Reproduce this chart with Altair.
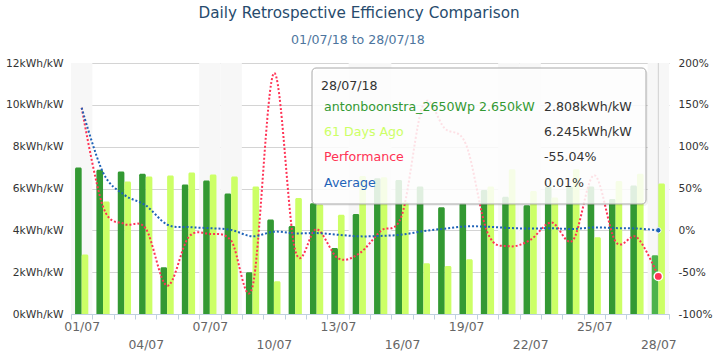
import altair as alt
import pandas as pd

# ---------------- data ----------------
days = list(range(1, 29))
dark = [7.00, 6.90, 6.81, 6.71, 2.24, 6.19, 6.38, 5.76, 2.00, 4.52,
        4.21, 5.30, 3.16, 4.78, 6.49, 6.41, 6.09, 5.10, 5.30, 5.93,
        5.61, 5.20, 6.09, 6.09, 6.09, 5.50, 6.14, 2.808]
light = [2.84, 5.38, 6.33, 6.57, 6.62, 6.76, 6.67, 6.57, 6.10, 1.57,
         5.55, 5.23, 4.74, 6.60, 6.54, 5.35, 2.43, 2.30, 2.62, 6.09,
         6.92, 5.88, 5.57, 6.92, 3.67, 6.36, 6.70, 6.245]
performance = [146.48, 28.25, 7.58, 2.13, -66.16, -8.43, -4.35, -12.33, -67.21, 187.90,
               -24.14, 1.34, -33.33, -27.58, -0.76, 18.88, 150.62, 121.74, 102.29, -2.63,
               -18.93, -11.56, 9.34, -11.99, 65.94, -13.52, -8.36, -55.04]
average = [146.48, 69.10, 42.34, 29.83, 6.92, 3.91, 2.57, 0.52, -7.15, -1.62,
           -3.67, -3.28, -5.29, -7.18, -6.68, -5.10, -0.98, 2.02, 4.73, 4.30,
           2.83, 2.10, 2.43, 1.65, 3.44, 2.66, 2.15, 0.01]
weekend_days = [1, 7, 8, 14, 15, 21, 22, 28]
hover_day = 28
left_ticks = [0, 2, 4, 6, 8, 10, 12]
right_ticks = [-100, -50, 0, 50, 100, 150, 200]

title_text = "Daily Retrospective Efficiency Comparison"
subtitle_text = "01/07/18 to 28/07/18"
tooltip_date = "28/07/18"
tooltip_labels = ["antonboonstra_2650Wp 2.650kW", "61 Days Ago", "Performance", "Average"]
tooltip_values = ["2.808kWh/kW", "6.245kWh/kW", "-55.04%", "0.01%"]

DARK = "#339933"
LIGHT = "#ccff66"
HOVER = "#4cb34c"
RED = "#ff3355"
BLUE = "#1f63b8"
tooltip_colors = [DARK, LIGHT, RED, BLUE]
FONT = "DejaVu Sans"

W, H = 598, 251

bars_df = pd.DataFrame({
    "day": days * 2,
    "series": ["dark"] * len(days) + ["light"] * len(days),
    "value": dark + light,
})
lines_df = pd.DataFrame({"day": days, "performance": performance, "average": average})
weekend_df = pd.DataFrame({"day": weekend_days})
hover_df = lines_df[lines_df["day"] == hover_day]
tip_df = pd.DataFrame({
    "label": tooltip_labels, "value": tooltip_values,
    "color": tooltip_colors, "idx": list(range(len(tooltip_labels))),
})

# ---------------- scales / axes ----------------
x_scale = alt.Scale(domain=[0.5, 28.5], nice=False, zero=False)
label_expr = (
    "(datum.value + 0.5) <= 28 && ((datum.value - 0.5) % 3) == 0 ? "
    "((((datum.value - 0.5) / 3) % 2) == 0 ? "
    "[((datum.value + 0.5) < 10 ? '0' : '') + (datum.value + 0.5) + '/07'] : "
    "['', ((datum.value + 0.5) < 10 ? '0' : '') + (datum.value + 0.5) + '/07']) : ''"
)
x_axis = alt.Axis(
    values=[d - 0.5 for d in days] + [28.5], title=None, grid=False,
    labelExpr=label_expr, labelOffset=W / 28 / 2, tickSize=5,
    tickColor="#C0D0E0", domainColor="#C0D0E0", labelColor="#666666",
    labelFont=FONT, labelFontSize=12.4, labelPadding=1, labelLineHeight=18.3,
    labelOverlap=False, labelBaseline="top", labelAlign="center", labelFlush=False,
)
left_axis = alt.Axis(
    values=left_ticks, labelExpr="datum.value + 'kWh/kW'", title=None,
    grid=True, gridColor="#d4d4d4", domain=False, ticks=False, labelPadding=8,
    labelFont=FONT, labelFontSize=10.7, labelColor="#333333",
)
right_axis = alt.Axis(
    orient="right", values=right_ticks, labelExpr="datum.value + '%'", title=None,
    grid=False, domain=False, ticks=False, labelPadding=9,
    labelFont=FONT, labelFontSize=10.6, labelColor="#333333",
)
pct_scale = alt.Scale(domain=[-100, 200], nice=False, zero=False)

# ---------------- layers ----------------
bands = alt.Chart(weekend_df).transform_calculate(
    b0="datum.day - 0.5", b1="datum.day + 0.5"
).mark_rect(fill="#f7f7f7", opacity=1).encode(
    x=alt.X("b0:Q", scale=x_scale, axis=x_axis),
    x2="b1:Q",
    y=alt.value(0), y2=alt.value(H),
)

crosshair = alt.Chart(pd.DataFrame({"day": [hover_day]})).mark_rule(
    color="#d0d0d0", strokeWidth=1
).encode(
    x=alt.X("day:Q", scale=x_scale, axis=x_axis),
    y=alt.value(0), y2=alt.value(H),
)

bars = alt.Chart(bars_df).transform_calculate(
    xa="datum.series == 'dark' ? datum.day - 0.31 : datum.day",
    xb="datum.series == 'dark' ? datum.day : datum.day + 0.31",
    key="datum.series == 'dark' && datum.day == %d ? 'hover' : datum.series" % hover_day,
).mark_rect(cornerRadiusTopLeft=1.5, cornerRadiusTopRight=1.5, opacity=1).encode(
    x=alt.X("xa:Q", scale=x_scale, axis=x_axis),
    x2="xb:Q",
    y=alt.Y("value:Q", scale=alt.Scale(domain=[0, 12], nice=False), axis=left_axis),
    y2=alt.datum(0),
    color=alt.Color("key:N", scale=alt.Scale(domain=["dark", "light", "hover"],
                                             range=[DARK, LIGHT, HOVER]), legend=None),
)

perf_line = alt.Chart(lines_df).mark_line(
    color=RED, strokeWidth=2, strokeDash=[2, 2], interpolate="cardinal"
).encode(
    x=alt.X("day:Q", scale=x_scale, axis=x_axis),
    y=alt.Y("performance:Q", scale=pct_scale, axis=right_axis),
)
avg_line = alt.Chart(lines_df).mark_line(
    color=BLUE, strokeWidth=2, strokeDash=[2, 2], interpolate="cardinal"
).encode(
    x=alt.X("day:Q", scale=x_scale, axis=x_axis),
    y=alt.Y("average:Q", scale=pct_scale, axis=None),
)
perf_pt = alt.Chart(hover_df).mark_circle(
    color=RED, size=70, stroke="white", strokeWidth=1.5, opacity=1
).encode(
    x=alt.X("day:Q", scale=x_scale, axis=x_axis),
    y=alt.Y("performance:Q", scale=pct_scale, axis=None),
)
avg_pt = alt.Chart(hover_df).mark_circle(
    color=BLUE, size=30, stroke="white", strokeWidth=1, opacity=1
).encode(
    x=alt.X("day:Q", scale=x_scale, axis=x_axis),
    y=alt.Y("average:Q", scale=pct_scale, axis=None),
)

one = pd.DataFrame({"t": [tooltip_date]})
tip_shadow = alt.Chart(one).mark_rect(
    fill="black", opacity=0.05, cornerRadius=4
).encode(x=alt.value(243), x2=alt.value(577), y=alt.value(7), y2=alt.value(143))
tip_box = alt.Chart(one).mark_rect(
    fill="white", fillOpacity=0.85, stroke="#a8a8a8", strokeWidth=1, cornerRadius=4
).encode(x=alt.value(241), x2=alt.value(575), y=alt.value(5), y2=alt.value(141))
tip_head = alt.Chart(one).mark_text(
    font=FONT, fontSize=12.6, color="#333333", align="left", baseline="middle"
).encode(text="t:N", x=alt.value(250), y=alt.value(22.7))
tip_labels = alt.Chart(tip_df).transform_calculate(
    ypix="43.7 + 25.3 * datum.idx"
).mark_text(font=FONT, fontSize=12.6, align="left", baseline="middle").encode(
    text="label:N", x=alt.value(253),
    y=alt.Y("ypix:Q", scale=None, axis=None),
    color=alt.Color("color:N", scale=None, legend=None),
)
tip_values = alt.Chart(tip_df).transform_calculate(
    ypix="43.7 + 25.3 * datum.idx"
).mark_text(font=FONT, fontSize=12.6, align="left", baseline="middle", color="#333333").encode(
    text="value:N", x=alt.value(473),
    y=alt.Y("ypix:Q", scale=None, axis=None),
)

title = alt.Chart(pd.DataFrame({"t": [title_text]})).mark_text(
    font=FONT, fontSize=15.2, color="#274b6d", align="center", baseline="alphabetic"
).encode(text="t:N", x=alt.value(288), y=alt.value(-45))
subtitle = alt.Chart(pd.DataFrame({"t": [subtitle_text]})).mark_text(
    font=FONT, fontSize=12.6, color="#4d759e", align="center", baseline="alphabetic"
).encode(text="t:N", x=alt.value(287), y=alt.value(-19.5))

chart = alt.layer(
    bands, crosshair, bars, perf_line, avg_line, perf_pt, avg_pt,
    tip_shadow, tip_box, tip_head, tip_labels, tip_values, title, subtitle,
).resolve_scale(y="independent").properties(
    width=W, height=H,
    padding={"left": 71, "top": 63, "right": 51, "bottom": 40},
    autosize=alt.AutoSizeParams(type="none"),
    background="white",
).configure_view(stroke=None)

chart.save("out.html", embed_options={"renderer": "svg", "actions": False})
